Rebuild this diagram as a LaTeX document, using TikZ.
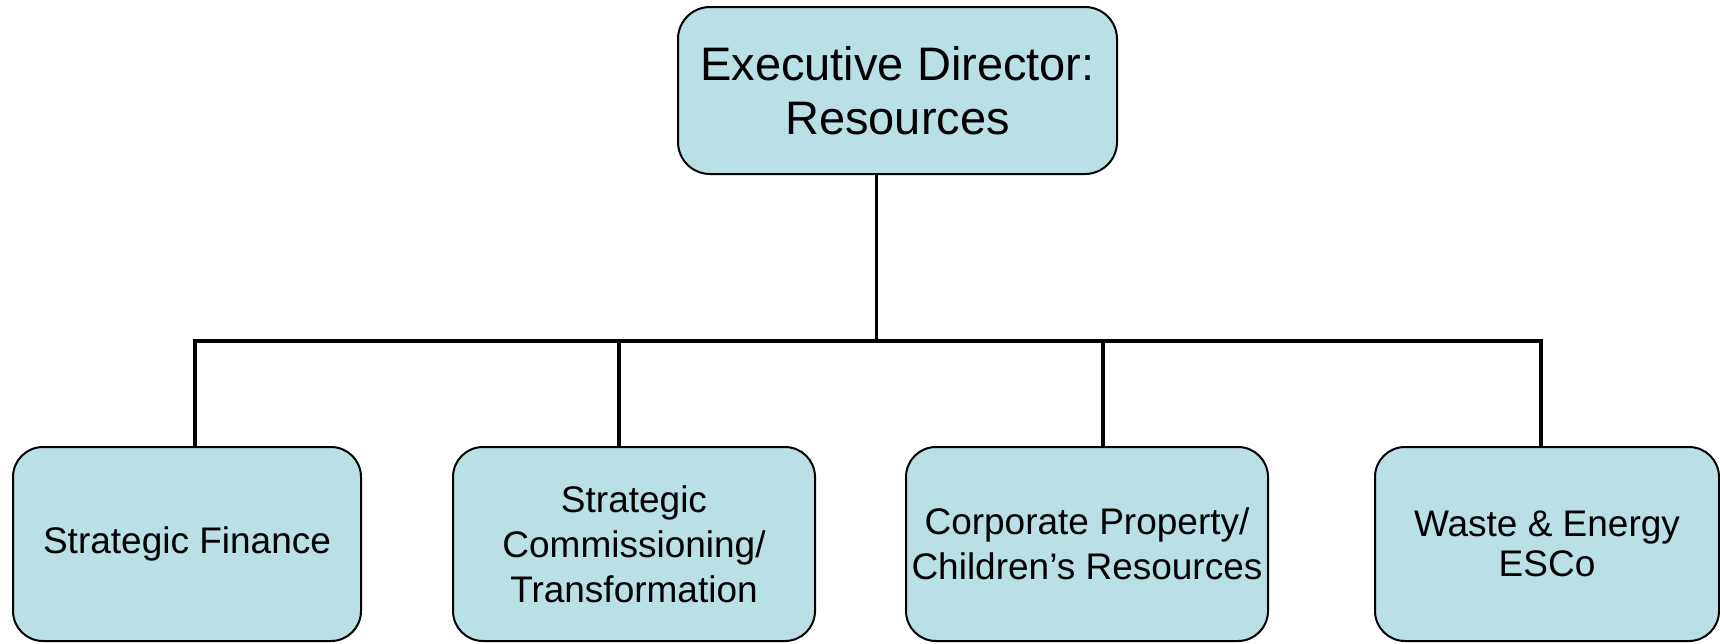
\documentclass[tikz,border=0pt]{standalone}
\usepackage{fontspec}
\setmainfont{Liberation Sans}
\usetikzlibrary{calc}
\definecolor{boxblue}{RGB}{185,224,228}

\begin{document}
\begin{tikzpicture}[x = 0.5pt, y = -0.5pt]
	\tikzstyle{unitStyle} = [shape = rectangle, rounded corners = 15pt, draw, line width = 1pt, fill = boxblue, inner sep = 0pt, align = center]
	\tikzstyle{headStyle} = [unitStyle, minimum width = 219.5pt, minimum height = 83.5pt, rounded corners = 16pt, font = \fontsize{23.5}{27}\selectfont]
	\tikzstyle{teamStyle} = [unitStyle, minimum height = 97pt, font = \fontsize{18.5}{22.5}\selectfont]
	\tikzstyle{linkStyle} = [line width = 1.75pt]
	\useasboundingbox (0,0) rectangle (1720,643);
	\node[headStyle] (exec) at (897.5,90.5) {Executive Director:\\Resources};
	\node[teamStyle, minimum width = 174pt] (fin) at (187,544) {Strategic Finance};
	\node[teamStyle, minimum width = 181pt] (comm) at (634,544) {Strategic\\Commissioning/\\Transformation};
	\node[teamStyle, minimum width = 181pt] (prop) at (1087,544) {Corporate Property/\\Children’s Resources};
	\node[teamStyle, minimum width = 172pt, font = \fontsize{18.5}{20}\selectfont] (waste) at (1547,544) {Waste \& Energy\\ESCo};
	\coordinate (bar) at (0,341);
	\draw[linkStyle] ([xshift=-10.5pt]exec.south) -- ([xshift=-10.5pt]exec.south |- bar);
	\draw[linkStyle] ([xshift=4pt]fin.north) |- ([xshift=-3pt]waste.north |- bar) -- ([xshift=-3pt]waste.north);
	\draw[linkStyle] ([xshift=-7.5pt]comm.north) -- ([xshift=-7.5pt]comm.north |- bar);
	\draw[linkStyle] ([xshift=8pt]prop.north) -- ([xshift=8pt]prop.north |- bar);
\end{tikzpicture}
\end{document}
